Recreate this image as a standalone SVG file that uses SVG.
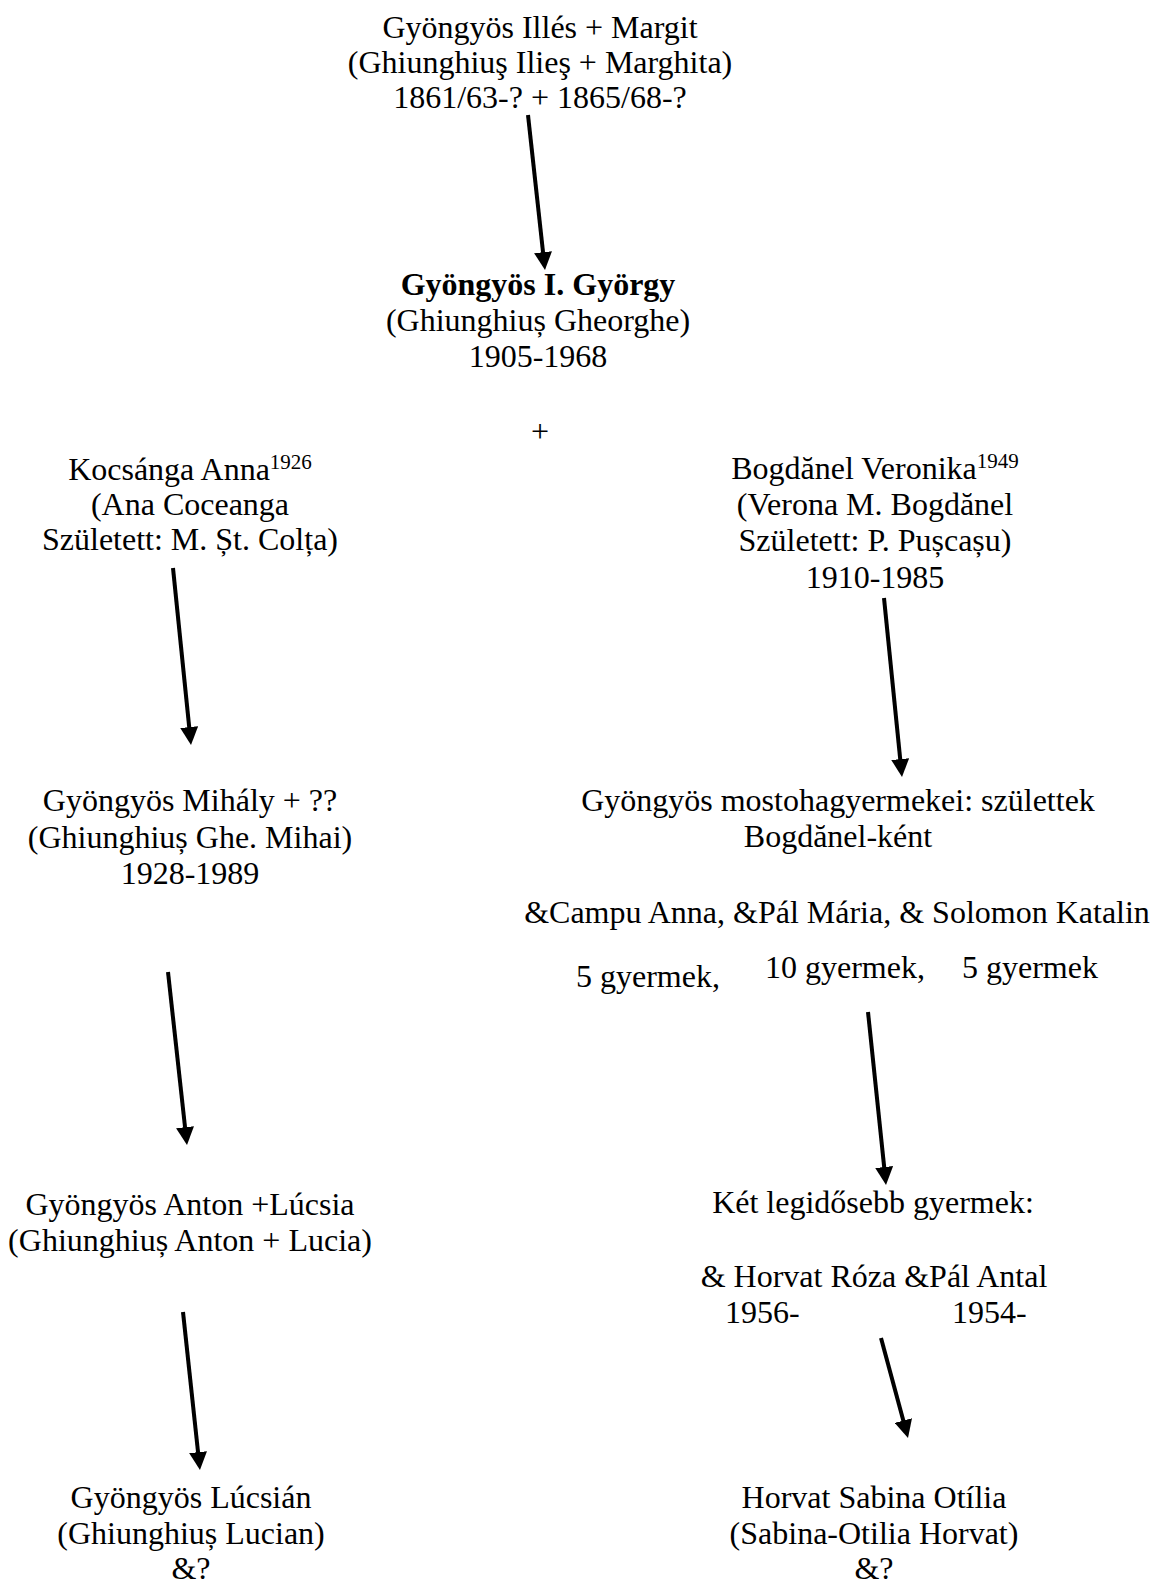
<svg xmlns="http://www.w3.org/2000/svg" width="1156" height="1584" viewBox="0 0 1156 1584">
<style>
text{font-family:"Liberation Serif","Times New Roman",serif;font-size:32px;fill:#000}
.c{text-anchor:middle}
.b{font-weight:bold}
.sup{font-size:21px}
.arr{stroke:#000;stroke-width:4;fill:none;marker-end:url(#ah)}
</style>
<defs>
<marker id="ah" viewBox="0 0 10 10" refX="4.44" refY="5" markerWidth="18" markerHeight="18" markerUnits="userSpaceOnUse" orient="auto">
<path d="M0,0 L10,5 L0,10 z" fill="#000"/>
</marker>
</defs>
<rect width="1156" height="1584" fill="#fff"/>
<g id="connectors">
<line class="arr" x1="528" y1="115" x2="543.9" y2="260.1"/>
<line class="arr" x1="173" y1="568" x2="190" y2="735"/>
<line class="arr" x1="884" y1="598" x2="901" y2="767"/>
<line class="arr" x1="168" y1="972" x2="185.9" y2="1135.1"/>
<line class="arr" x1="183" y1="1312" x2="198.9" y2="1460.1"/>
<line class="arr" x1="868" y1="1012" x2="885" y2="1175"/>
<line class="arr" x1="881" y1="1338" x2="905.4" y2="1428.3"/>
</g>
<g id="n-illes">
<text class="c" x="540" y="38">Gyöngyös Illés + Margit</text>
<text class="c" x="540" y="73">(Ghiunghiuş Ilieş + Marghita)</text>
<text class="c" x="540" y="108">1861/63-? + 1865/68-?</text>
</g>
<g id="n-gyorgy">
<text class="c b" x="538" y="295">Gyöngyös I. György</text>
<text class="c" x="538" y="331">(Ghiunghiuș Gheorghe)</text>
<text class="c" x="538" y="367">1905-1968</text>
</g>
<g id="n-plus">
<text class="c" x="540" y="442">+</text>
</g>
<g id="n-anna">
<text class="c" x="190" y="480">Kocsánga Anna<tspan class="sup" dy="-11">1926</tspan></text>
<text class="c" x="190" y="515">(Ana Coceanga</text>
<text class="c" x="190" y="550">Született: M. Șt. Colța)</text>
</g>
<g id="n-veronika">
<text class="c" x="875" y="479">Bogdănel Veronika<tspan class="sup" dy="-11">1949</tspan></text>
<text class="c" x="875" y="515">(Verona M. Bogdănel</text>
<text class="c" x="875" y="551">Született: P. Pușcașu)</text>
<text class="c" x="875" y="588">1910-1985</text>
</g>
<g id="n-mihaly">
<text class="c" x="190" y="811">Gyöngyös Mihály + ??</text>
<text class="c" x="190" y="848">(Ghiunghiuș Ghe. Mihai)</text>
<text class="c" x="190" y="884">1928-1989</text>
</g>
<g id="n-mostoha">
<text class="c" x="838" y="811">Gyöngyös mostohagyermekei: születtek</text>
<text class="c" x="838" y="847">Bogdănel-ként</text>
<text class="c" x="837" y="923">&amp;Campu Anna, &amp;Pál Mária, &amp; Solomon Katalin</text>
<text x="576" y="987">5 gyermek,</text>
<text x="765" y="978">10 gyermek,</text>
<text x="962" y="978">5 gyermek</text>
</g>
<g id="n-anton">
<text class="c" x="190" y="1215">Gyöngyös Anton +Lúcsia</text>
<text class="c" x="190" y="1251">(Ghiunghiuș Anton + Lucia)</text>
</g>
<g id="n-ket">
<text class="c" x="873" y="1213">Két legidősebb gyermek:</text>
<text class="c" x="874" y="1287">&amp; Horvat Róza &amp;Pál Antal</text>
<text x="725" y="1323">1956-</text>
<text x="952" y="1323">1954-</text>
</g>
<g id="n-lucian">
<text class="c" x="191" y="1508">Gyöngyös Lúcsián</text>
<text class="c" x="191" y="1544">(Ghiunghiuș Lucian)</text>
<text class="c" x="191" y="1579">&amp;?</text>
</g>
<g id="n-sabina">
<text class="c" x="874" y="1508">Horvat Sabina Otília</text>
<text class="c" x="874" y="1544">(Sabina-Otilia Horvat)</text>
<text class="c" x="874" y="1579">&amp;?</text>
</g>
</svg>
